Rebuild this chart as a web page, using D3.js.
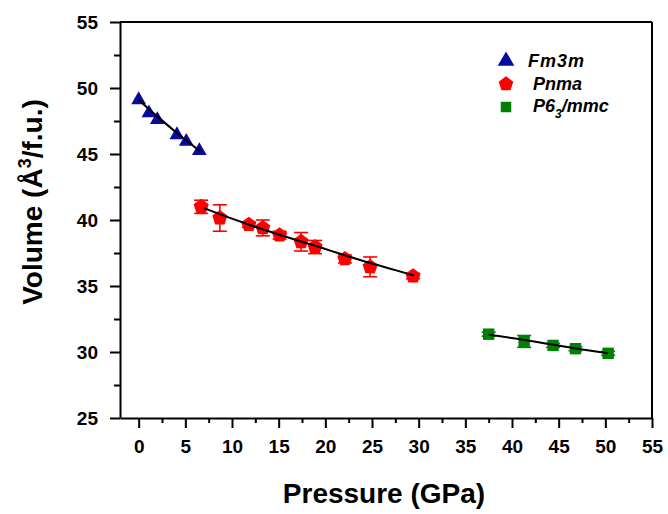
<!DOCTYPE html>
<html>
<head>
<meta charset="utf-8">
<script src="https://cdn.jsdelivr.net/npm/d3@7"></script>
<style>
  body { margin: 0; background: #fff; }
  svg { display: block; font-family: "Liberation Sans", Arial, sans-serif; }
  .axis path, .axis line { stroke: #000; }
  .axis text { font-size: 19px; font-weight: bold; fill: #000; }
</style>
</head>
<body>
<script>
// Fm3m phase (blue triangles)
var fmP = [0, 1.1, 2.0, 4.1, 5.1, 6.5];
var fmV = [49.1, 48.1, 47.6, 46.45, 45.95, 45.25];
var fmFitP = [0, 2, 4, 6.6];
var fmFitV = [49.1, 47.85, 46.65, 45.2];

// Pnma phase (red pentagons)
var pnP = [6.7, 8.7, 11.8, 13.3, 15.1, 17.4, 18.9, 22.1, 24.8, 29.4];
var pnV = [41.0, 40.15, 39.65, 39.4, 38.85, 38.35, 37.95, 37.05, 36.45, 35.75];
var pnErr = [0.5, 1.0, 0.2, 0.6, 0.3, 0.7, 0.5, 0.3, 0.75, 0.2];
var pnFitP = [7, 10, 12, 15, 18, 20, 22, 25, 27.5, 29.5];
var pnFitV = [40.9, 40.1, 39.6, 38.9, 38.25, 37.8, 37.35, 36.7, 36.2, 35.8];

// P6_3/mmc phase (green squares)
var p6P = [37.5, 41.3, 44.4, 46.8, 50.3];
var p6V = [31.35, 30.8, 30.5, 30.25, 29.9];
var p6Err = [0.15, 0.45, 0.15, 0.15, 0.15];
var p6FitP = [37.5, 41, 44, 47, 50.3];
var p6FitV = [31.3, 30.95, 30.6, 30.25, 29.9];

var xTicks = [0, 5, 10, 15, 20, 25, 30, 35, 40, 45, 50, 55];
var xMinor = [2.5, 7.5, 12.5, 17.5, 22.5, 27.5, 32.5, 37.5, 42.5, 47.5, 52.5];
var yTicks = [25, 30, 35, 40, 45, 50, 55];
var yMinor = [27.5, 32.5, 37.5, 42.5, 47.5, 52.5];

var W = 668, H = 514;
var margin = {top: 22, right: 16, bottom: 96, left: 120},
    width = W - margin.left - margin.right,
    height = H - margin.top - margin.bottom;

var svg = d3.select("body").append("svg")
    .attr("width", W)
    .attr("height", H);

var g = svg.append("g")
    .attr("transform", "translate(" + margin.left + "," + margin.top + ")");

var x = d3.scaleLinear().domain([-2, 55]).range([0, width]);
var y = d3.scaleLinear().domain([25, 55]).range([height, 0]);

// minor ticks first
g.append("g")
    .attr("class", "axis")
    .attr("transform", "translate(0," + height + ")")
    .call(d3.axisBottom(x).tickValues(xMinor).tickSize(5).tickFormat(""))
    .call(s => s.select(".domain").remove())
    .selectAll("line").attr("stroke-width", 2);

g.append("g")
    .attr("class", "axis")
    .call(d3.axisLeft(y).tickValues(yMinor).tickSize(6).tickFormat(""))
    .call(s => s.select(".domain").remove())
    .selectAll("line").attr("stroke-width", 2);

var xAxis = g.append("g")
    .attr("class", "axis")
    .attr("transform", "translate(0," + height + ")")
    .call(d3.axisBottom(x).tickValues(xTicks).tickSize(10).tickSizeOuter(0).tickPadding(12));
xAxis.selectAll("line").attr("stroke-width", 2);
xAxis.select(".domain").attr("stroke-width", 2);

var yAxis = g.append("g")
    .attr("class", "axis")
    .call(d3.axisLeft(y).tickValues(yTicks).tickSize(10).tickSizeOuter(0).tickPadding(12));
yAxis.selectAll("line").attr("stroke-width", 2);
yAxis.select(".domain").attr("stroke-width", 2);

// top and right frame
g.append("line")
    .attr("x1", 0).attr("x2", width)
    .attr("y1", 0).attr("y2", 0)
    .attr("stroke", "#000").attr("stroke-width", 2);
g.append("line")
    .attr("x1", width).attr("x2", width)
    .attr("y1", 0).attr("y2", height)
    .attr("stroke", "#000").attr("stroke-width", 2);

// axis titles
svg.append("text")
    .attr("x", 384)
    .attr("y", 503)
    .attr("text-anchor", "middle")
    .style("font-size", "28px")
    .style("font-weight", "bold")
    .text("Pressure (GPa)");

var yt = svg.append("text")
    .attr("transform", "translate(42,202) rotate(-90)")
    .attr("text-anchor", "middle")
    .style("font-size", "28px")
    .style("font-weight", "bold");
yt.append("tspan").text("Volume (Å");
yt.append("tspan").attr("dy", -11).style("font-size", "18px").text("3");
yt.append("tspan").attr("dy", 11).text("/f.u.)");

// pentagon symbol
var pentagon = {
  draw: function(context, size) {
    var r = Math.sqrt(size / 2.3776);
    for (var i = 0; i < 5; i++) {
      var a = -Math.PI / 2 + i * 2 * Math.PI / 5;
      if (i === 0) context.moveTo(r * Math.cos(a), r * Math.sin(a));
      else context.lineTo(r * Math.cos(a), r * Math.sin(a));
    }
    context.closePath();
  }
};

var line = d3.line()
    .x(d => x(d[0]))
    .y(d => y(d[1]))
    .curve(d3.curveMonotoneX);

function fitLine(ps, vs) {
  g.append("path")
    .datum(ps.map((p, i) => [p, vs[i]]))
    .attr("fill", "none")
    .attr("stroke", "#000")
    .attr("stroke-width", 2)
    .attr("d", line);
}

function errorBars(ps, vs, es, color) {
  var data = ps.map((p, i) => ({p: p, v: vs[i], e: es[i]}));
  var eb = g.append("g").attr("stroke", color).attr("stroke-width", 1.6);
  eb.selectAll(".ev").data(data).enter().append("line")
    .attr("x1", d => x(d.p)).attr("x2", d => x(d.p))
    .attr("y1", d => y(d.v - d.e)).attr("y2", d => y(d.v + d.e));
  eb.selectAll(".et").data(data).enter().append("line")
    .attr("x1", d => x(d.p) - 7).attr("x2", d => x(d.p) + 7)
    .attr("y1", d => y(d.v + d.e)).attr("y2", d => y(d.v + d.e));
  eb.selectAll(".eb").data(data).enter().append("line")
    .attr("x1", d => x(d.p) - 7).attr("x2", d => x(d.p) + 7)
    .attr("y1", d => y(d.v - d.e)).attr("y2", d => y(d.v - d.e));
}

function points(ps, vs, type, size, color) {
  g.append("g").selectAll("path")
    .data(ps.map((p, i) => [p, vs[i]]))
    .enter().append("path")
    .attr("transform", d => "translate(" + x(d[0]) + "," + y(d[1]) + ")")
    .attr("d", d3.symbol(type, size))
    .attr("fill", color);
}

errorBars(pnP, pnV, pnErr, "#ff0000");
errorBars(p6P, p6V, p6Err, "#008000");

points(fmP, fmV, d3.symbolTriangle, 95, "#0a0aa0");
points(pnP, pnV, pentagon, 150, "#ff0000");
points(p6P, p6V, d3.symbolSquare, 130, "#008000");

fitLine(fmFitP, fmFitV);
fitLine(pnFitP, pnFitV);
fitLine(p6FitP, p6FitV);

// legend
var legend = svg.append("g");
var items = [
  {type: d3.symbolTriangle, size: 120, color: "#0a0aa0", y: 61},
  {type: pentagon, size: 140, color: "#ff0000", y: 84},
  {type: d3.symbolSquare, size: 110, color: "#008000", y: 107}
];
items.forEach(function(it) {
  legend.append("path")
    .attr("transform", "translate(506," + it.y + ")")
    .attr("d", d3.symbol(it.type, it.size))
    .attr("fill", it.color);
});
function legendText(xp, yp) {
  return legend.append("text")
    .attr("x", xp).attr("y", yp)
    .style("font-size", "18px")
    .style("font-weight", "bold")
    .style("font-style", "italic");
}
legendText(528, 67).attr("letter-spacing", 1).text("Fm3m");
legendText(533, 90).text("Pnma");
var t3 = legendText(533, 112);
t3.append("tspan").text("P6");
t3.append("tspan").attr("dy", 6).style("font-size", "12px").text("3");
t3.append("tspan").attr("dy", -6).attr("dx", 0).text("/mmc");
</script>
</body>
</html>
